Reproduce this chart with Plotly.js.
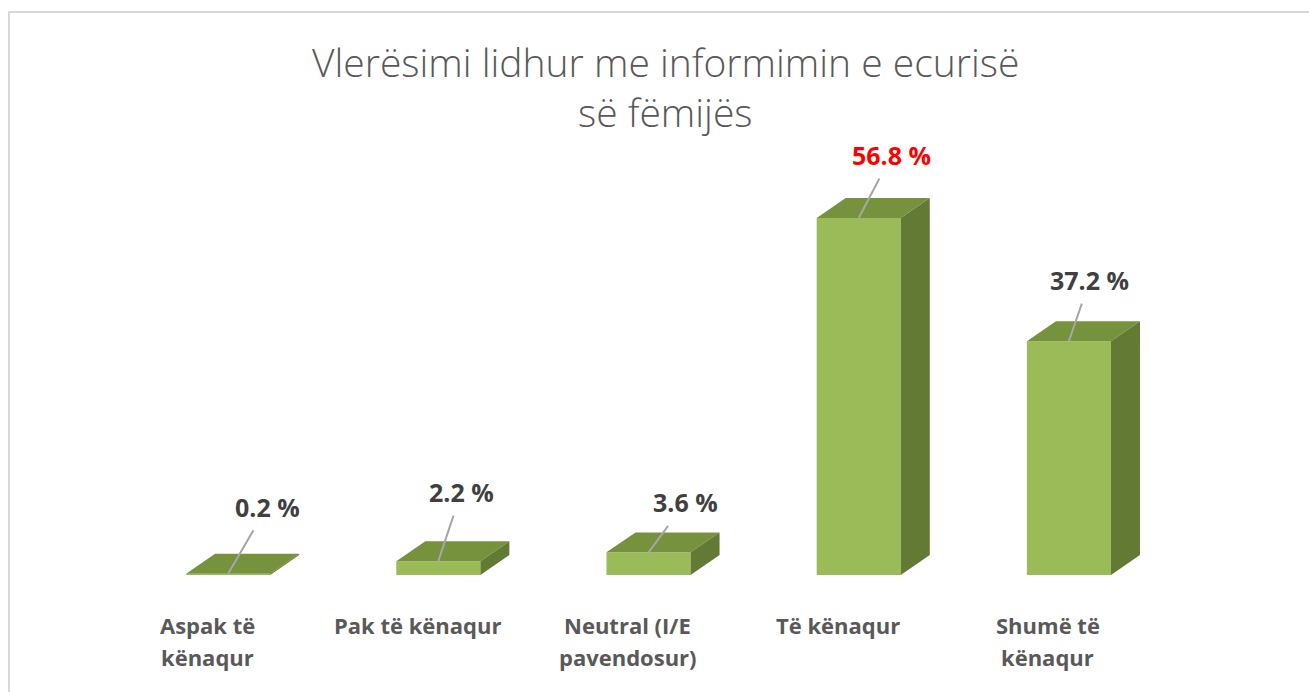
<!DOCTYPE html>
<html>
<head>
<meta charset="utf-8">
<script src="https://cdn.plot.ly/plotly-3.0.1.min.js"></script>
<style>
  html, body { margin:0; padding:0; background:#fff; }
  #chart { width:1309px; height:692px; position:absolute; left:0; top:0; }
  #frame { position:absolute; left:8px; top:11px; width:1400px; height:800px;
           border-left:2px solid #d9d9d9; border-top:2px solid #d9d9d9; pointer-events:none; }
</style>
</head>
<body>
<div id="chart"></div>
<div id="frame"></div>
<script>
// ---- data ----
const categories = ["Aspak të<br>kënaqur", "Pak të kënaqur", "Neutral (I/E<br>pavendosur)", "Të kënaqur", "Shumë të<br>kënaqur"];
const values = [0.2, 2.2, 3.6, 56.8, 37.2];
const chartTitle = "Vlerësimi lidhur me informimin e ecurisë<br>së fëmijës";

// ---- presentation settings ----
const labelOffsets = [[39,-67],[23,-69],[37,-50],[33,-63],[21,-61]]; // px offsets of value labels
const barWidth = 0.4, barOffset = -0.1;
const depthX = 0.138, depthY = 3.18;
const cFront = "#9BBB59", cTop = "#76923C", cSide = "#637A34";
const titleLineY = [1.168, 1.054];

const idx = categories.map((_, i) => i);
const maxVal = Math.max(...values);

const shapes = [];
idx.forEach(i => {
  const v = values[i];
  const x0 = i + barOffset, x1 = x0 + barWidth;
  shapes.push({type:"path", xref:"x", yref:"y", line:{width:0}, fillcolor:cTop,
    path:`M ${x0} ${v} L ${x1} ${v} L ${x1+depthX} ${v+depthY} L ${x0+depthX} ${v+depthY} Z`});
  shapes.push({type:"path", xref:"x", yref:"y", line:{width:0}, fillcolor:cSide,
    path:`M ${x1} 0 L ${x1+depthX} ${depthY} L ${x1+depthX} ${v+depthY} L ${x1} ${v} Z`});
});

const annotations = [];
chartTitle.split("<br>").forEach((ln, k) => {
  annotations.push({xref:"paper", yref:"paper", x:0.5366, y:titleLineY[k], text:ln, showarrow:false,
    xanchor:"center", yanchor:"middle",
    font:{family:"Open Sans, Liberation Sans, sans-serif", size:39, weight:300, color:"#595959"}});
});
idx.forEach(i => {
  annotations.push({
    x: i + barOffset + barWidth/2, y: values[i], xref:"x", yref:"y",
    text: values[i].toFixed(1) + " %",
    showarrow:true, arrowhead:0, arrowwidth:2, arrowcolor:"#a6a6a6",
    ax: labelOffsets[i][0], ay: labelOffsets[i][1], borderpad:6,
    font:{family:"Open Sans, Liberation Sans, sans-serif", size:25, weight:"bold",
          color: values[i] === maxVal ? "#FF0000" : "#404040"}
  });
  categories[i].split("<br>").forEach((ln, k) => {
    annotations.push({
      x: i, y: 0, xref:"x", yref:"y", text: ln, showarrow:false,
      xanchor:"center", yanchor:"middle", yshift: -50 - 32*k,
      font:{family:"Open Sans, Liberation Sans, sans-serif", size:22, weight:"bold", color:"#595959"}
    });
  });
});

const trace = {
  type:"bar", x: idx, y: values, width: barWidth, offset: barOffset,
  marker:{color:cFront, line:{width:0}}, hoverinfo:"x+y", cliponaxis:false
};

const layout = {
  width:1309, height:692,
  margin:{l:102, r:156, t:135, b:117},
  paper_bgcolor:"#ffffff", plot_bgcolor:"#ffffff",
  xaxis:{range:[-0.5, 4.5], showgrid:false, zeroline:false, showline:false, showticklabels:false, ticks:""},
  yaxis:{range:[0, 70], showgrid:false, zeroline:false, showline:false, showticklabels:false, ticks:""},
  shapes, annotations, showlegend:false
};

Plotly.newPlot("chart", [trace], layout, {displayModeBar:false, staticPlot:true});
</script>
</body>
</html>
